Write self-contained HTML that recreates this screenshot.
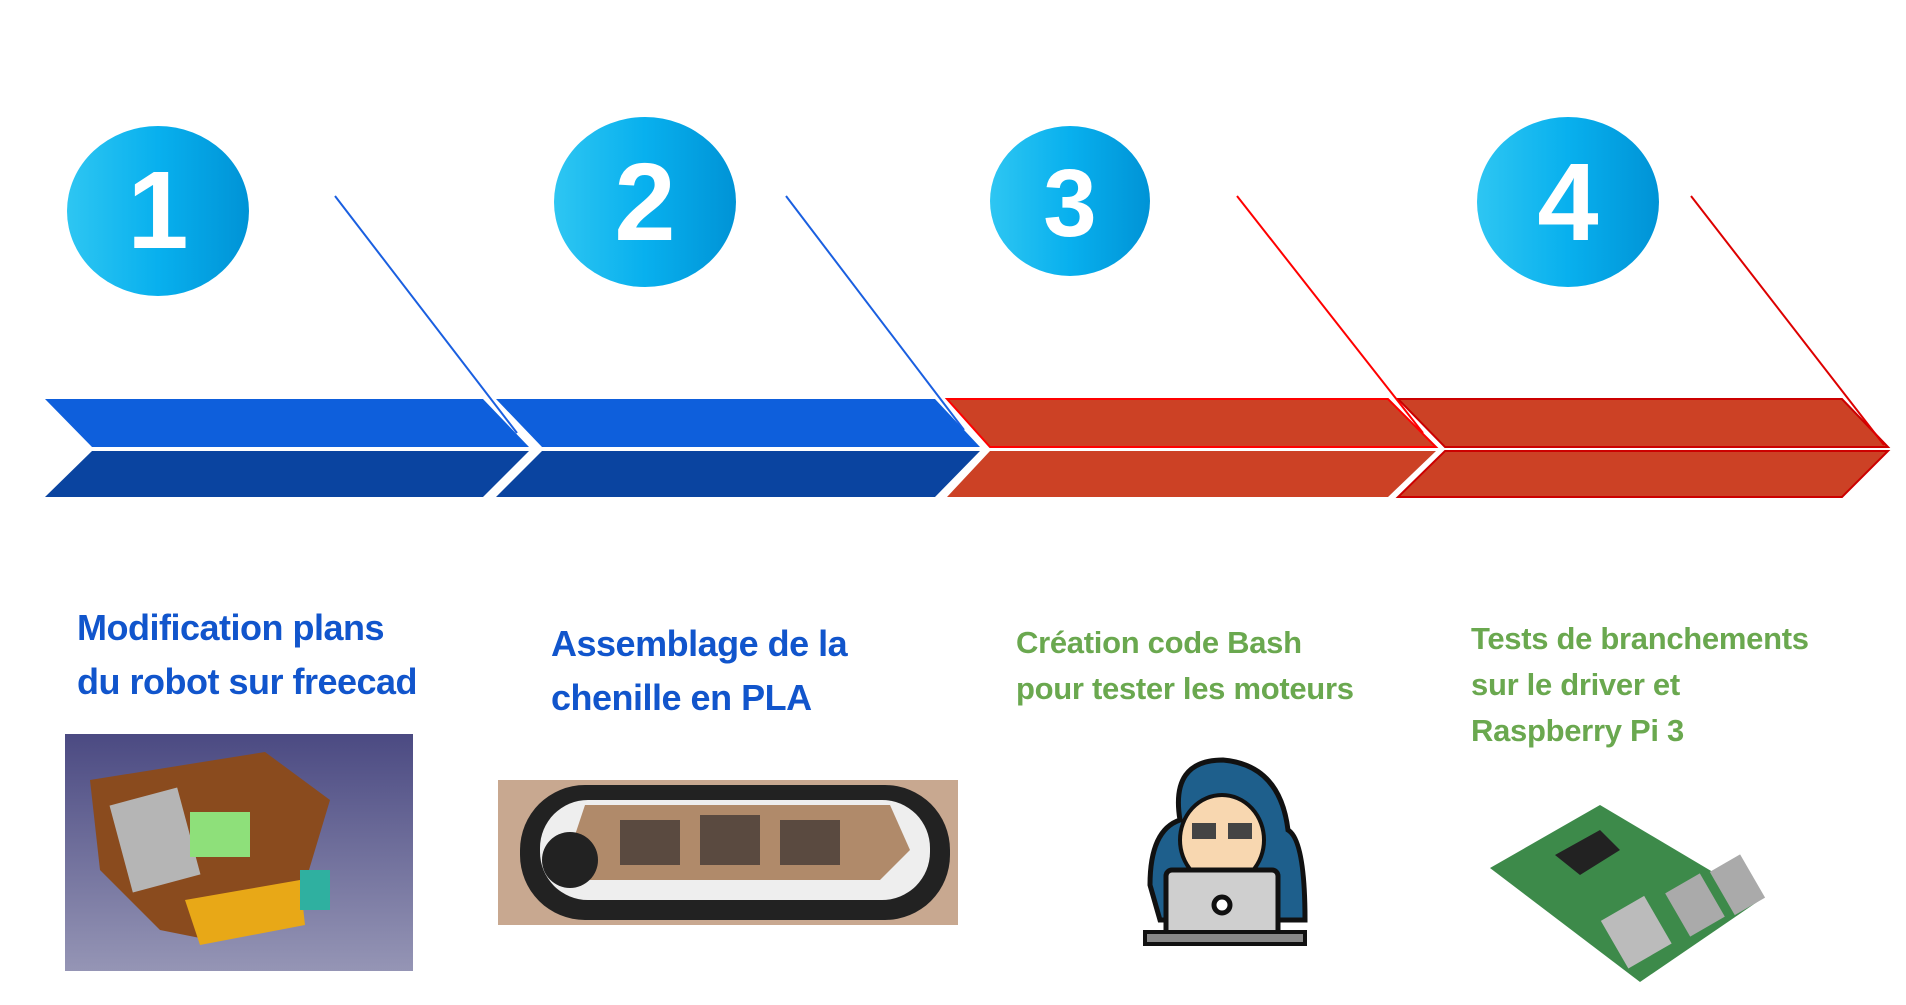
<!DOCTYPE html>
<html><head><meta charset="utf-8"><style>
html,body{margin:0;padding:0;background:#fff;width:1906px;height:1005px;overflow:hidden}
.t{position:absolute;font-family:"Liberation Sans",sans-serif;font-weight:bold;white-space:nowrap}
.b{color:#1155cc;font-size:36px;line-height:54px;letter-spacing:-0.5px}
.g{color:#6aa84f;font-size:31px;line-height:46px;letter-spacing:-0.3px}
</style></head><body>
<svg width="1906" height="1005" style="position:absolute;left:0;top:0">
<defs>
<linearGradient id="cg" x1="0" x2="1"><stop offset="0" stop-color="#2ec6f2"/><stop offset="0.5" stop-color="#08b0ee"/><stop offset="1" stop-color="#0093d6"/></linearGradient>
<linearGradient id="ig" x1="0" y1="0" x2="0" y2="1"><stop offset="0" stop-color="#4b4a82"/><stop offset="1" stop-color="#9595b5"/></linearGradient>
</defs>
<g>
<polygon points="45,399 483,399 529,447 92,447" fill="#0e5fdc"/>
<polygon points="92,451 529,451 483,497 45,497" fill="#0a44a0"/>
<polygon points="496,399 935,399 980,447 542,447" fill="#0e5fdc"/>
<polygon points="542,451 980,451 935,497 496,497" fill="#0a44a0"/>
<polygon points="947,399 1388,399 1436,447 990,447" fill="#cc4125" stroke="#f00" stroke-width="2"/>
<polygon points="990,451 1436,451 1388,497 947,497" fill="#cc4125"/>
<polygon points="1398,399 1842,399 1888,447 1445,447" fill="#cc4125" stroke="#c00" stroke-width="2"/>
<polygon points="1445,451 1888,451 1842,497 1398,497" fill="#cc4125" stroke="#c00" stroke-width="2"/>
</g>
<line x1="335" y1="196" x2="517" y2="433" stroke="#1a5fe0" stroke-width="2"/>
<line x1="786" y1="196" x2="964" y2="430" stroke="#1a5fe0" stroke-width="2"/>
<line x1="1237" y1="196" x2="1423" y2="433" stroke="#f00" stroke-width="2"/>
<line x1="1691" y1="196" x2="1884" y2="445" stroke="#d00" stroke-width="2"/>
<g font-family="Liberation Sans,sans-serif" font-weight="bold" fill="#fff" text-anchor="middle">
<ellipse cx="158" cy="211" rx="91" ry="85" fill="url(#cg)"/>
<text x="158" y="248" font-size="110">1</text>
<ellipse cx="645" cy="202" rx="91" ry="85" fill="url(#cg)"/>
<text x="645" y="240" font-size="110">2</text>
<ellipse cx="1070" cy="201" rx="80" ry="75" fill="url(#cg)"/>
<text x="1070" y="236" font-size="96">3</text>
<ellipse cx="1568" cy="202" rx="91" ry="85" fill="url(#cg)"/>
<text x="1568" y="240" font-size="110">4</text>
</g>
<rect x="65" y="734" width="348" height="237" fill="url(#ig)"/>
<polygon points="90,780 265,752 330,800 300,900 210,940 160,930 100,870" fill="#8a4b1e"/>
<rect x="120" y="795" width="70" height="90" fill="#b5b5b5" transform="rotate(-15 155 840)"/>
<rect x="190" y="812" width="60" height="45" fill="#8ee07a"/>
<polygon points="185,900 300,880 305,925 200,945" fill="#e8a817"/>
<rect x="300" y="870" width="30" height="40" fill="#2fb0a0"/>
<rect x="498" y="780" width="460" height="145" fill="#c8a890"/>
<rect x="520" y="785" width="430" height="135" rx="65" fill="#222"/>
<rect x="540" y="800" width="390" height="100" rx="48" fill="#eee"/>
<polygon points="585,805 890,805 910,850 880,880 590,880 570,850" fill="#b08a6a"/>
<rect x="620" y="820" width="60" height="45" fill="#5a4a40"/><rect x="700" y="815" width="60" height="50" fill="#5a4a40"/><rect x="780" y="820" width="60" height="45" fill="#5a4a40"/>
<circle cx="570" cy="860" r="28" fill="#222"/>
<path d="M1160,920 L1150,885 Q1150,830 1180,820 Q1170,760 1223,760 Q1280,765 1288,830 Q1305,840 1305,920 Z" fill="#1e5f8c" stroke="#111" stroke-width="5"/>
<ellipse cx="1222" cy="840" rx="42" ry="45" fill="#f8d7b0" stroke="#111" stroke-width="4"/>
<rect x="1192" y="823" width="24" height="16" fill="#444"/><rect x="1228" y="823" width="24" height="16" fill="#444"/>
<rect x="1166" y="870" width="112" height="68" rx="6" fill="#cfcfcf" stroke="#111" stroke-width="5"/>
<circle cx="1222" cy="905" r="8" fill="#fff" stroke="#111" stroke-width="5"/>
<rect x="1145" y="932" width="160" height="12" fill="#888" stroke="#111" stroke-width="4"/>
<polygon points="1490,868 1600,805 1760,900 1640,982" fill="#3d8a4a"/>
<polygon points="1555,855 1600,830 1620,850 1580,875" fill="#222"/>
<rect x="1610" y="905" width="50" height="55" fill="#bbb" transform="rotate(-30 1635 930)"/>
<rect x="1675" y="880" width="40" height="50" fill="#aaa" transform="rotate(-30 1695 905)"/>
<rect x="1720" y="860" width="35" height="50" fill="#aaa" transform="rotate(-30 1737 885)"/>
</svg>
<div class="t b" style="left:77px;top:601px">Modification plans<br>du robot sur freecad</div>
<div class="t b" style="left:551px;top:617px">Assemblage de la<br>chenille en PLA</div>
<div class="t g" style="left:1016px;top:620px">Création code Bash<br>pour tester les moteurs</div>
<div class="t g" style="left:1471px;top:616px">Tests de branchements<br>sur le driver et<br>Raspberry Pi 3</div>
</body></html>
